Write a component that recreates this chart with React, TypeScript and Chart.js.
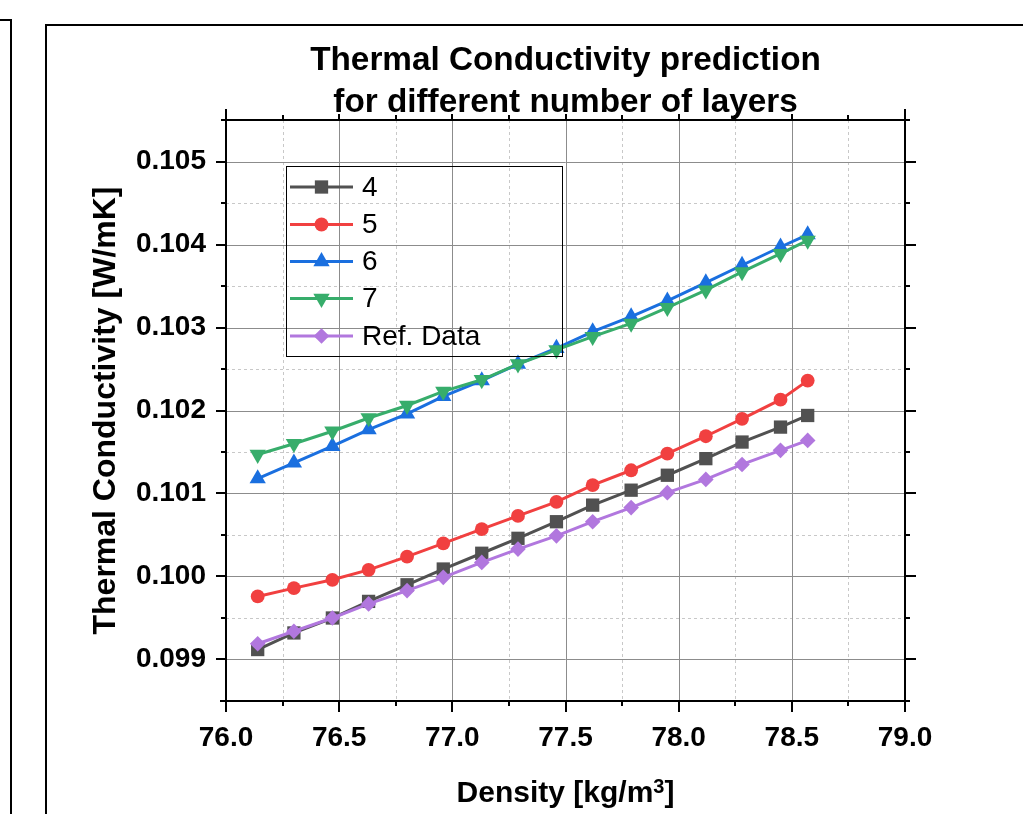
import React, { useEffect, useRef } from 'react';
import { Chart, registerables } from 'chart.js';
import { drawPoint } from 'chart.js/helpers';

Chart.register(...registerables);

// Density values [kg/m3]
const density = [76.14, 76.30, 76.47, 76.63, 76.80, 76.96, 77.13, 77.29, 77.46, 77.62, 77.79, 77.95, 78.12, 78.28, 78.45, 78.57];

// Thermal conductivity [W/mK] per number of layers
const layers4 = [0.09912, 0.09932, 0.09950, 0.09970, 0.09990, 0.10009, 0.10028, 0.10046, 0.10066, 0.10086, 0.10104, 0.10122, 0.10142, 0.10162, 0.10180, 0.10194];
const layers5 = [0.09976, 0.09986, 0.09996, 0.10008, 0.10024, 0.10040, 0.10057, 0.10073, 0.10090, 0.10110, 0.10128, 0.10148, 0.10169, 0.10190, 0.10213, 0.10236];
const layers6 = [0.10118, 0.10137, 0.10157, 0.10177, 0.10196, 0.10217, 0.10236, 0.10256, 0.10275, 0.10295, 0.10313, 0.10332, 0.10354, 0.10375, 0.10397, 0.10412];
const layers7 = [0.10147, 0.10160, 0.10175, 0.10191, 0.10206, 0.10223, 0.10237, 0.10256, 0.10273, 0.10289, 0.10305, 0.10324, 0.10345, 0.10367, 0.10389, 0.10405];
const refData = [0.09919, 0.09934, 0.09950, 0.09967, 0.09983, 0.09999, 0.10017, 0.10033, 0.10049, 0.10066, 0.10083, 0.10101, 0.10117, 0.10135, 0.10152, 0.10164];

const seriesLabels = ['4', '5', '6', '7', 'Ref. Data'];

// Axis ticks
const xTickValues = [76.0, 76.5, 77.0, 77.5, 78.0, 78.5, 79.0];
const xMinorValues = [76.25, 76.75, 77.25, 77.75, 78.25, 78.75];
const yTickValues = [0.099, 0.100, 0.101, 0.102, 0.103, 0.104, 0.105];
const yMinorValues = [0.0985, 0.0995, 0.1005, 0.1015, 0.1025, 0.1035, 0.1045, 0.1055];

const FONT = '"Liberation Sans", Arial, Helvetica, sans-serif';

const seriesStyles = [
  { color: '#515151', pointStyle: 'rect', rotation: 0, radius: 9.4 },
  { color: '#F14040', pointStyle: 'circle', rotation: 0, radius: 6.9 },
  { color: '#1A6FDF', pointStyle: 'triangle', rotation: 0, radius: 9.4 },
  { color: '#37AD6B', pointStyle: 'triangle', rotation: 180, radius: 9.4 },
  { color: '#B177DE', pointStyle: 'rectRot', rotation: 0, radius: 7.8 },
];

const seriesValues = [layers4, layers5, layers6, layers7, refData];

const decorPlugin = {
  id: 'decor',
  beforeDraw(chart: any) {
    const { ctx, width, height } = chart;
    ctx.save();
    ctx.fillStyle = '#ffffff';
    ctx.fillRect(0, 0, width, height);
    // page frames
    ctx.strokeStyle = '#000';
    ctx.lineWidth = 2;
    ctx.lineJoin = 'miter';
    ctx.beginPath();
    ctx.moveTo(0, 20);
    ctx.lineTo(11, 20);
    ctx.lineTo(11, height + 2);
    ctx.moveTo(46, height + 2);
    ctx.lineTo(46, 25);
    ctx.lineTo(width + 2, 25);
    ctx.stroke();
    ctx.restore();
  },
  beforeDatasetsDraw(chart: any) {
    const { ctx, chartArea } = chart;
    const xs = chart.scales.x;
    const ys = chart.scales.y;
    const { left, right, top, bottom } = chartArea;
    ctx.save();
    // minor grid (dashed)
    ctx.strokeStyle = '#c8c8c8';
    ctx.lineWidth = 1;
    ctx.setLineDash([3, 3]);
    ctx.beginPath();
    xMinorValues.forEach((v) => {
      const x = Math.round(xs.getPixelForValue(v)) + 0.5;
      ctx.moveTo(x, top);
      ctx.lineTo(x, bottom);
    });
    yMinorValues.forEach((v) => {
      const y = Math.round(ys.getPixelForValue(v)) + 0.5;
      ctx.moveTo(left, y);
      ctx.lineTo(right, y);
    });
    ctx.stroke();
    // major grid (solid)
    ctx.setLineDash([]);
    ctx.strokeStyle = '#8c8c8c';
    ctx.beginPath();
    xTickValues.forEach((v) => {
      const x = Math.round(xs.getPixelForValue(v)) + 0.5;
      ctx.moveTo(x, top);
      ctx.lineTo(x, bottom);
    });
    yTickValues.forEach((v) => {
      const y = Math.round(ys.getPixelForValue(v)) + 0.5;
      ctx.moveTo(left, y);
      ctx.lineTo(right, y);
    });
    ctx.stroke();
    ctx.restore();
  },
  afterDatasetsDraw(chart: any) {
    const { ctx, chartArea } = chart;
    const xs = chart.scales.x;
    const ys = chart.scales.y;
    const { left, right, top, bottom } = chartArea;
    ctx.save();
    ctx.strokeStyle = '#000';
    ctx.lineWidth = 2;
    ctx.setLineDash([]);
    // axis box
    ctx.beginPath();
    ctx.moveTo(left, top - 11);
    ctx.lineTo(left, bottom);
    ctx.moveTo(right, top - 11);
    ctx.lineTo(right, bottom + 11);
    ctx.moveTo(left - 6, bottom);
    ctx.lineTo(right, bottom);
    ctx.moveTo(left - 5, top);
    ctx.lineTo(right + 5, top);
    // x ticks
    xTickValues.forEach((v) => {
      const x = Math.round(xs.getPixelForValue(v));
      ctx.moveTo(x, bottom);
      ctx.lineTo(x, bottom + 11);
      ctx.moveTo(x, top);
      ctx.lineTo(x, top - 6);
    });
    xMinorValues.forEach((v) => {
      const x = Math.round(xs.getPixelForValue(v));
      ctx.moveTo(x, bottom);
      ctx.lineTo(x, bottom + 5);
      ctx.moveTo(x, top);
      ctx.lineTo(x, top - 5);
    });
    // y ticks
    yTickValues.forEach((v) => {
      const y = Math.round(ys.getPixelForValue(v));
      ctx.moveTo(left, y);
      ctx.lineTo(left - 10, y);
      ctx.moveTo(right, y);
      ctx.lineTo(right + 11, y);
    });
    yMinorValues.forEach((v) => {
      const y = Math.round(ys.getPixelForValue(v));
      ctx.moveTo(left, y);
      ctx.lineTo(left - 5, y);
      ctx.moveTo(right, y);
      ctx.lineTo(right + 5, y);
    });
    ctx.stroke();

    // title
    const cx = (left + right) / 2;
    ctx.fillStyle = '#000';
    ctx.textAlign = 'center';
    ctx.textBaseline = 'alphabetic';
    ctx.font = `bold 33.3px ${FONT}`;
    ctx.fillText('Thermal Conductivity prediction', cx, 70);
    ctx.fillText('for different number of layers', cx, 112);

    // y axis title
    ctx.save();
    ctx.translate(115, (top + bottom) / 2);
    ctx.rotate(-Math.PI / 2);
    ctx.font = `bold 32px ${FONT}`;
    ctx.fillText('Thermal Conductivity [W/mK]', 0, 0);
    ctx.restore();

    // x axis title with superscript
    const main1 = 'Density [kg/m';
    const sup = '3';
    const main2 = ']';
    ctx.font = `bold 30px ${FONT}`;
    const w1 = ctx.measureText(main1).width;
    const w2 = ctx.measureText(main2).width;
    ctx.font = `bold 20px ${FONT}`;
    const ws = ctx.measureText(sup).width;
    let tx = cx - (w1 + ws + w2) / 2;
    const ty = 802;
    ctx.textAlign = 'left';
    ctx.font = `bold 30px ${FONT}`;
    ctx.fillText(main1, tx, ty);
    tx += w1;
    ctx.font = `bold 20px ${FONT}`;
    ctx.fillText(sup, tx, ty - 9);
    tx += ws;
    ctx.font = `bold 30px ${FONT}`;
    ctx.fillText(main2, tx, ty);

    // legend
    ctx.lineWidth = 1;
    ctx.strokeStyle = '#000';
    ctx.strokeRect(286.5, 166.5, 276, 190);
    const rowY = [187, 224.5, 261.5, 298.5, 336];
    seriesLabels.forEach((label, i) => {
      const st = seriesStyles[i];
      const y = rowY[i];
      ctx.strokeStyle = st.color;
      ctx.fillStyle = st.color;
      ctx.lineWidth = 3;
      ctx.beginPath();
      ctx.moveTo(290, y);
      ctx.lineTo(353, y);
      ctx.stroke();
      drawPoint(ctx, { pointStyle: st.pointStyle, rotation: st.rotation, radius: st.radius, borderWidth: 0 } as any, 321.5, y);
      ctx.fillStyle = '#000';
      ctx.font = `28px ${FONT}`;
      ctx.textAlign = 'left';
      ctx.textBaseline = 'middle';
      ctx.fillText(label, 362, y + 1);
    });
    ctx.restore();
  },
};

export default function App() {
  const canvasRef = useRef<HTMLCanvasElement | null>(null);

  useEffect(() => {
    const canvas = canvasRef.current;
    if (!canvas) return;
    const datasets = seriesLabels.map((label, i) => {
      const st = seriesStyles[i];
      return {
        label,
        data: density.map((x, j) => ({ x, y: seriesValues[i][j] })),
        borderColor: st.color,
        backgroundColor: st.color,
        pointBackgroundColor: st.color,
        pointBorderColor: st.color,
        pointBorderWidth: 0,
        pointStyle: st.pointStyle,
        pointRotation: st.rotation,
        pointRadius: st.radius,
        borderWidth: 3,
        tension: 0,
        fill: false,
        order: seriesLabels.length - i,
      };
    });

    const chart = new Chart(canvas, {
      type: 'line',
      data: { datasets } as any,
      options: {
        animation: false,
        responsive: false,
        devicePixelRatio: 1,
        layout: { padding: { left: 0, right: 118, top: 120, bottom: 0 } },
        plugins: {
          legend: { display: false },
          title: { display: false },
          tooltip: { enabled: false },
        },
        scales: {
          x: {
            type: 'linear',
            min: 76,
            max: 79,
            grid: { display: false },
            border: { display: false },
            afterBuildTicks: (s: any) => {
              s.ticks = xTickValues.map((value) => ({ value }));
            },
            afterFit: (s: any) => {
              s.height = 113;
            },
            ticks: {
              autoSkip: false,
              maxRotation: 0,
              padding: 12,
              color: '#000',
              font: { size: 28, weight: 'bold', family: FONT },
              callback: (v: any) => Number(v).toFixed(1),
            },
          },
          y: {
            type: 'linear',
            min: 0.0985,
            max: 0.1055,
            grid: { display: false },
            border: { display: false },
            afterBuildTicks: (s: any) => {
              s.ticks = yTickValues.map((value) => ({ value }));
            },
            afterFit: (s: any) => {
              s.width = 226;
            },
            ticks: {
              autoSkip: false,
              padding: 12,
              color: '#000',
              font: { size: 28, weight: 'bold', family: FONT },
              callback: (v: any) => Number(v).toFixed(3),
            },
          },
        },
      } as any,
      plugins: [decorPlugin],
    });
    return () => chart.destroy();
  }, []);

  return (
    <div style={{ position: 'absolute', left: 0, top: 0, width: 1023, height: 814 }}>
      <canvas ref={canvasRef} width={1023} height={814} />
    </div>
  );
}
